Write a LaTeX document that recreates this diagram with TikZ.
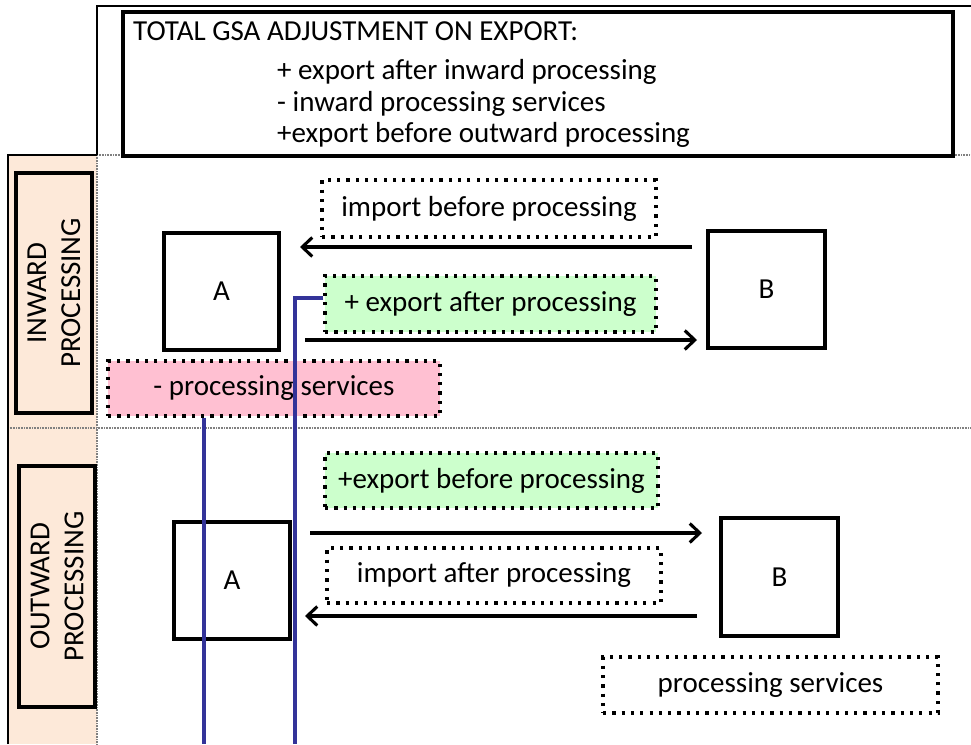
\documentclass[tikz,border=0pt]{standalone}
\usepackage{fontspec}
\setmainfont{Carlito}
\usetikzlibrary{arrows.meta}
\definecolor{peach}{HTML}{FDE9D9}
\definecolor{mint}{HTML}{CCFFCC}
\definecolor{rosy}{HTML}{FFC0D2}
\definecolor{navy}{HTML}{333399}
\tikzset{
  txt/.style={font=\fontsize{29}{34}\selectfont, inner sep=0pt},
  solidbox/.style={draw=black, line width=3.4pt, rectangle, font=\fontsize{29}{34}\selectfont},
  dotbox/.style={draw=black, line width=3.2pt, dash pattern=on 3.2pt off 6.1pt, rectangle, font=\fontsize{29}{34}\selectfont},
  flow/.style={line width=3.1pt, -{Straight Barb[length=10pt,width=19pt,line width=3.1pt]}},
  grid/.style={draw=gray, line width=1.5pt, dash pattern=on 1pt off 0.6pt},
  link/.style={draw=navy, line width=3.6pt},
}
\begin{document}
\begin{tikzpicture}[x=1pt,y=-1pt]
\useasboundingbox (0,0) rectangle (971,744);
% left column
\fill[peach] (8,155) rectangle (97,744);
\draw[grid] (97,155) -- (971,155);
\draw[grid] (8,428) -- (971,428);
\draw[grid] (97,155) -- (97,744);
\draw[black, line width=2.2pt] (8,744) -- (8,155) -- (97,155);
\draw[black, line width=1.8pt] (97,155) -- (97,6) -- (971,6);

% header
\node[solidbox, minimum width=830pt, minimum height=144pt] (head) at (538,84) {};
\node[txt, anchor=west] (t0) at (133,31) {TOTAL GSA ADJUSTMENT ON EXPORT:};
\node[txt, anchor=west] (t1) at (277,72) {+ export after inward processing};
\node[txt, anchor=west] (t2) at (277,104) {- inward processing services};
\node[txt, anchor=west] (t3) at (277,135) {+export before outward processing};

% side labels
\node[solidbox, fill=peach, minimum width=76pt, minimum height=240pt] (inl) at (54,293) {};
\node[txt, rotate=90, align=center] (inlt) at (54,293) {INWARD\\PROCESSING};
\node[solidbox, fill=peach, minimum width=76pt, minimum height=241pt] (outl) at (57,586.5) {};
\node[txt, rotate=90, align=center] (outlt) at (57,586.5) {OUTWARD\\PROCESSING};

% inward processing
\node[solidbox, minimum width=115pt, minimum height=117pt] (A1) at (221.5,291.5) {A};
\node[solidbox, minimum width=117pt, minimum height=117pt] (B1) at (766.5,289.5) {B};
\node[dotbox, minimum width=334pt, minimum height=57pt] (ibp) at (489,208.5) {import before processing};
\node[dotbox, fill=mint, minimum width=331pt, minimum height=56pt] (eap) at (490.5,304) {+ export after processing};
\node[dotbox, fill=rosy, minimum width=332pt, minimum height=55pt] (ps1) at (274,388.5) {- processing services};
\coordinate (a1s) at (692,247);
\coordinate (a1e) at (300,247);
\coordinate (a2s) at (305,340);
\coordinate (a2e) at (697,340);
\draw[flow] (a1s) -- (a1e);
\draw[flow] (a2s) -- (a2e);

% outward processing
\node[dotbox, fill=mint, minimum width=333pt, minimum height=55pt] (ebp) at (491.5,480.5) {+export before processing};
\node[dotbox, minimum width=334pt, minimum height=55pt] (iap) at (494,575.5) {import after processing};
\node[solidbox, minimum width=116pt, minimum height=117pt] (A2) at (232,580.5) {A};
\node[solidbox, minimum width=117pt, minimum height=118pt] (B2) at (779.5,577) {B};
\node[dotbox, minimum width=335pt, minimum height=56pt] (ps2) at (770.5,685) {processing services};
\coordinate (a3s) at (310,533);
\coordinate (a3e) at (702,533);
\coordinate (a4s) at (697,616);
\coordinate (a4e) at (305,616);
\draw[flow] (a3s) -- (a3e);
\draw[flow] (a4s) -- (a4e);

% blue links
\coordinate (l1) at (204,744);
\coordinate (l2) at (295,744);
\draw[link] (ps1.south -| l1) -- (l1);
\draw[link] (eap.west |- 0,298) -| (l2);
\end{tikzpicture}
\end{document}
